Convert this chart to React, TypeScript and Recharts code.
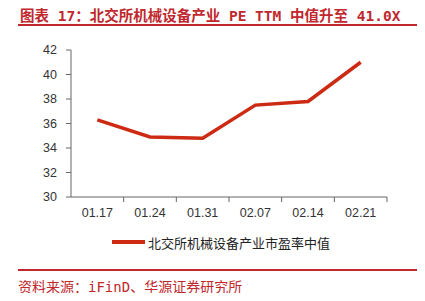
import { Line, LineChart, XAxis, YAxis } from "recharts";

const dates = ["01.17", "01.24", "01.31", "02.07", "02.14", "02.21"];
const peMedian = [36.3, 34.9, 34.8, 37.5, 37.8, 41.0];
const yTicks = [30, 32, 34, 36, 38, 40, 42];

const chartData = dates.map((d, i) => ({ date: d, pe: peMedian[i] }));

const RED = "#c0282e";
const LINE = "#cc2a12";
const PLOT_LEFT = 71;
const PLOT_RIGHT = 387;
const HALF_BAND = (PLOT_RIGHT - PLOT_LEFT) / dates.length / 2;
const MONO = "'DejaVu Sans Mono', 'Noto Sans CJK SC', monospace";
const CJK = "'Noto Sans CJK SC', sans-serif";

// label at band centre, tick mark on the band's right boundary
function DateTick(props: any) {
  const { x, y, payload } = props;
  return (
    <g>
      <line x1={x + HALF_BAND} y1={y - 11} x2={x + HALF_BAND} y2={y - 6} stroke="#666" />
      <text x={x} y={y} dy="0.71em" textAnchor="middle" fill="#333" fontSize={12.5}>
        {payload.value}
      </text>
    </g>
  );
}

export default function App() {
  return (
    <div style={{ position: "relative", width: 425, height: 301, margin: -8, background: "#fff", fontFamily: "'Liberation Sans', Arial, sans-serif" }}>
      <div
        style={{
          position: "absolute",
          left: 20,
          top: 4,
          fontFamily: MONO,
          fontSize: 14.5,
          fontWeight: "bold",
          color: RED,
          whiteSpace: "nowrap",
        }}
      >
        图表 17<span style={{ fontFamily: CJK }}>：</span>北交所机械设备产业 PE TTM 中值升至 41.0X
      </div>
      <div style={{ position: "absolute", left: 18, top: 24, width: 400, height: 1.5, background: RED }} />

      <div style={{ position: "absolute", left: 0, top: 0 }}>
        <LineChart
          width={425}
          height={301}
          data={chartData}
          margin={{ top: 50, right: 425 - PLOT_RIGHT, bottom: 74, left: 10 }}
        >
          <XAxis
            dataKey="date"
            tickLine={false}
            tick={<DateTick />}
            tickSize={5}
            tickMargin={6}
            height={30}
            stroke="#666"
            interval={0}
            padding={{ left: HALF_BAND, right: HALF_BAND }}
          />
          <YAxis
            domain={[30, 42]}
            ticks={yTicks}
            width={PLOT_LEFT - 10}
            tickSize={5}
            tickMargin={9}
            stroke="#666"
            tick={{ fill: "#333", fontSize: 12.5 }}
            interval={0}
          />
          <Line
            dataKey="pe"
            stroke={LINE}
            strokeWidth={3.5}
            dot={false}
            isAnimationActive={false}
          />
        </LineChart>
      </div>

      <div style={{ position: "absolute", left: 112, top: 240, width: 33, height: 4, background: LINE }} />
      <div
        style={{
          position: "absolute",
          left: 148,
          top: 233,
          fontFamily: CJK,
          fontSize: 13,
          color: "#222",
          whiteSpace: "nowrap",
        }}
      >
        北交所机械设备产业市盈率中值
      </div>

      <div style={{ position: "absolute", left: 18, top: 269, width: 400, height: 1.5, background: RED }} />
      <div
        style={{
          position: "absolute",
          left: 18,
          top: 276,
          fontFamily: MONO,
          fontSize: 14,
          color: RED,
          whiteSpace: "nowrap",
        }}
      >
        资料来源<span style={{ fontFamily: CJK }}>：</span>iFinD、华源证券研究所
      </div>
    </div>
  );
}
